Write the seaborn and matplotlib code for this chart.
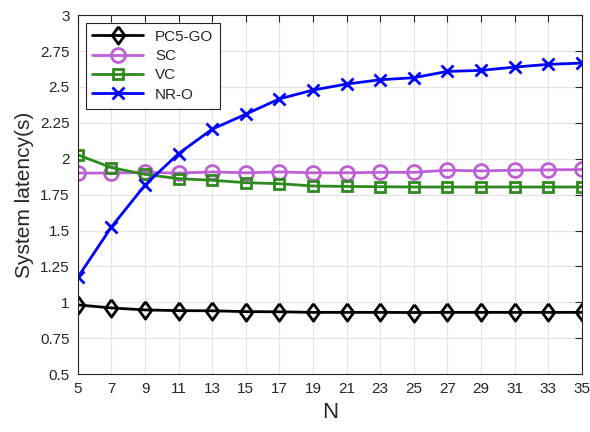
import numpy as np
import pandas as pd
import matplotlib
matplotlib.use("Agg")
import matplotlib.pyplot as plt
import seaborn as sns

N = [5, 7, 9, 11, 13, 15, 17, 19, 21, 23, 25, 27, 29, 31, 33, 35]
pc5_go = [0.982, 0.961, 0.947, 0.942, 0.941, 0.935, 0.934, 0.930, 0.930, 0.930, 0.929, 0.930, 0.930, 0.930, 0.930, 0.930]
sc = [1.900, 1.900, 1.905, 1.900, 1.908, 1.902, 1.908, 1.902, 1.902, 1.905, 1.905, 1.920, 1.915, 1.920, 1.922, 1.925]
vc = [2.027, 1.938, 1.891, 1.861, 1.850, 1.833, 1.826, 1.810, 1.807, 1.805, 1.803, 1.803, 1.803, 1.803, 1.803, 1.803]
nr_o = [1.175, 1.525, 1.817, 2.036, 2.206, 2.310, 2.417, 2.478, 2.520, 2.550, 2.564, 2.608, 2.615, 2.638, 2.657, 2.666]

series_names = ["PC5-GO", "SC", "VC", "NR-O"]
series_vals = [pc5_go, sc, vc, nr_o]
colors = ["#000000", "#BF5FD6", "#2E8A1E", "#0000FF"]
diamond = [(0, 1), (0.72, 0), (0, -1), (-0.72, 0), (0, 1)]
markers = [diamond, "o", "s", "x"]
msizes = [12.5, 10, 7, 8]

yticks = [0.5, 0.75, 1, 1.25, 1.5, 1.75, 2, 2.25, 2.5, 2.75, 3]
ytick_labels = ["0.5", "0.75", "1", "1.25", "1.5", "1.75", "2", "2.25", "2.5", "2.75", "3"]

sns.set_theme(style="whitegrid")
plt.rcParams["font.family"] = ["Liberation Sans", "DejaVu Sans"]

fig = plt.figure(figsize=(5.9, 4.32), dpi=100)
ax = fig.add_axes([0.132, 0.134, 0.854, 0.831])

for name, vals, c, m, ms in zip(series_names, series_vals, colors, markers, msizes):
    df = pd.DataFrame({"N": N, "latency": vals})
    sns.lineplot(data=df, x="N", y="latency", ax=ax, color=c, marker=m,
                 markersize=ms, markerfacecolor="none", markeredgecolor=c,
                 markeredgewidth=2, linewidth=2, label=name)

ax.set_xlim(5, 35)
ax.set_ylim(0.5, 3)
ax.set_xticks(N)
ax.set_xticklabels([str(n) for n in N])
ax.set_yticks(yticks)
ax.set_yticklabels(ytick_labels)
ax.tick_params(axis="both", which="major", direction="in", length=5, width=0.8,
               color="#262626", labelcolor="#262626",
               labelsize=11, top=True, right=True, pad=6)
ax.grid(True, color="#E3E3E3", linewidth=0.8)
for s in ax.spines.values():
    s.set_color("#262626")
    s.set_linewidth(0.8)
ax.set_xlabel("N", fontsize=16, color="#262626", labelpad=4)
ax.set_ylabel("System latency(s)", fontsize=15, color="#262626", labelpad=4)

leg = ax.legend(loc="upper left", fontsize=11, frameon=True, fancybox=False,
                edgecolor="#262626", framealpha=1, borderaxespad=0.5,
                handlelength=3.3, handletextpad=0.8, labelspacing=0.35, borderpad=0.45)
leg.get_frame().set_linewidth(0.8)

fig.savefig("out.png", dpi=100)
